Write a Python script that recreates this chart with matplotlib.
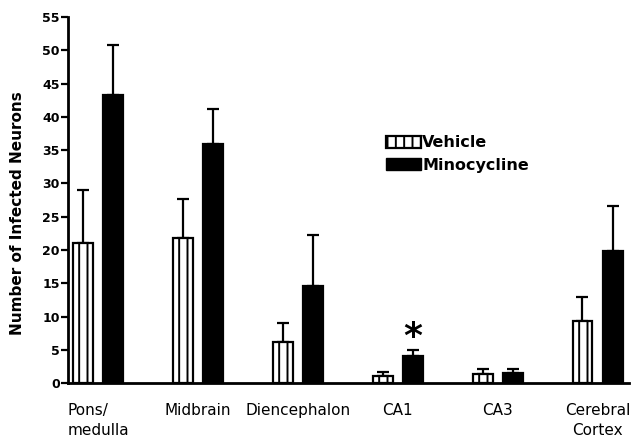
import matplotlib.pyplot as plt
import numpy as np
from matplotlib.patches import Patch

regions = ["Pons/\nmedulla", "Midbrain", "Diencephalon", "CA1", "CA3", "Cerebral\nCortex"]
vehicle = [21.0, 21.8, 6.2, 1.1, 1.3, 9.3]
vehicle_err = [8.0, 5.8, 2.9, 0.5, 0.8, 3.6]
minocycline = [43.3, 35.9, 14.6, 4.0, 1.5, 19.8]
minocycline_err = [7.5, 5.3, 7.6, 1.0, 0.6, 6.8]
yticks = np.arange(0, 56, 5)

plt.rcParams['hatch.linewidth'] = 1.4
plt.rcParams['font.family'] = 'DejaVu Sans'

fig = plt.figure(figsize=(6.38, 4.46), dpi=100)
ax = fig.add_axes([0.1066, 0.141, 0.88, 0.821])

x = np.arange(len(regions))
w = 0.2
off = 0.305

ax.bar(x, vehicle, w, color='white', edgecolor='black', linewidth=1.6,
       hatch='||', zorder=3)
ax.bar(x + off, minocycline, w, color='black', edgecolor='black', linewidth=1.6,
       zorder=3)
ax.errorbar(x, vehicle, yerr=[np.zeros(len(vehicle)), vehicle_err], fmt='none',
            ecolor='black', elinewidth=1.6, capsize=4, capthick=1.6, zorder=2)
ax.errorbar(x + off, minocycline, yerr=[np.zeros(len(minocycline)), minocycline_err],
            fmt='none', ecolor='black', elinewidth=1.6, capsize=4, capthick=1.6, zorder=2)

# significance marker on CA1
ax.text(3 + off, minocycline[3] + minocycline_err[3] - 0.6, '*', ha='center',
        va='bottom', fontsize=26, fontweight='bold')

ax.set_xlim(-0.15, 5.47)
ax.set_ylim(0, 55)
ax.set_yticks(yticks)
ax.set_yticklabels([str(t) for t in yticks], fontsize=9, fontweight='bold')
ax.set_xticks(x + off / 2)
ax.set_xticklabels(regions, fontsize=11, linespacing=1.45)
ax.get_xticklabels()[0].set_multialignment('left')
ax.tick_params(axis='x', length=0, pad=14)
ax.tick_params(axis='y', length=5, width=1.6, pad=1)
for s in ['top', 'right']:
    ax.spines[s].set_visible(False)
for s in ['left', 'bottom']:
    ax.spines[s].set_linewidth(2)
ax.set_ylabel("Number of Infected Neurons", fontsize=11, fontweight='bold')
ax.yaxis.set_label_coords(-0.076, 0.464)

handles = [Patch(facecolor='white', edgecolor='black', hatch='||', linewidth=1.6),
           Patch(facecolor='black', edgecolor='black')]
ax.legend(handles, ['Vehicle', 'Minocycline'], loc='upper left',
          bbox_to_anchor=(0.54, 0.716), frameon=False, handlelength=2.2,
          handleheight=0.8, handletextpad=0.1, labelspacing=0.45,
          prop={'weight': 'bold', 'size': 11.5})

fig.savefig('out.png', dpi=100)
